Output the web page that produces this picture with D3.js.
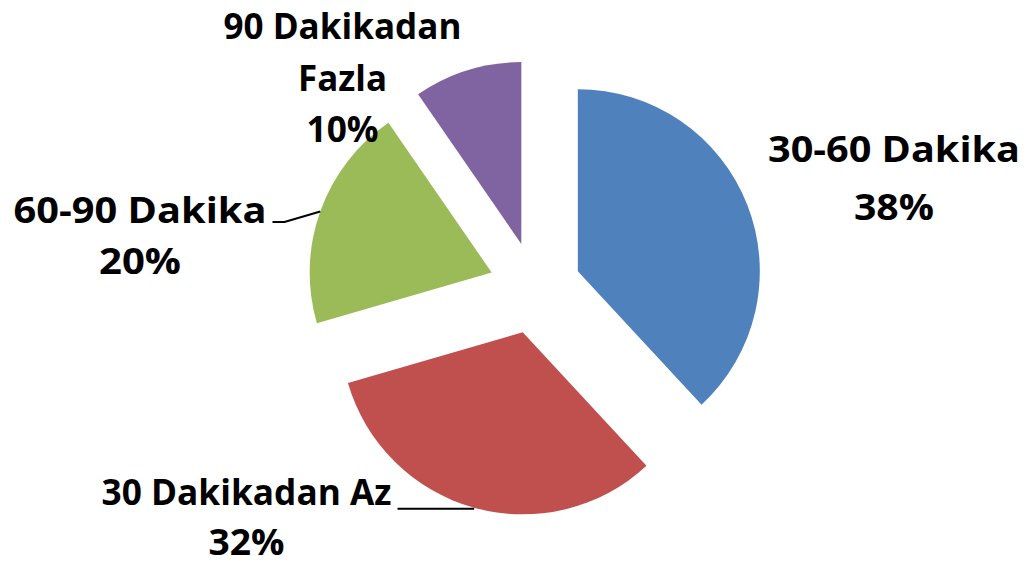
<!DOCTYPE html>
<html>
<head>
<meta charset="utf-8">
<script src="https://cdn.jsdelivr.net/npm/d3@7/dist/d3.min.js"></script>
<style>
  html, body { margin: 0; padding: 0; background: #ffffff; }
  svg { display: block; }
  text { font-family: "Open Sans", Lato, sans-serif; font-weight: 700; fill: #000; }
</style>
</head>
<body>
<svg id="chart" width="1027" height="565"></svg>
<script>
// ---- data ----
const categories = ["30-60 Dakika", "30 Dakikadan Az", "60-90 Dakika", "90 Dakikadan Fazla"];
const values = [38.1, 32.4, 19.9, 9.6];
const colors = ["#4F81BD", "#C0504D", "#9BBB59", "#8064A2"];

// ---- layout ----
const W = 1027, H = 565;
const cx = 535, cy = 288, R = 182, explode = 46;
const fontSize = 36;
// label layout: text lines, line widths (incl. percent line), center x, first baseline, line pitch, leader
const labelLayout = [
  { lines: ["30-60 Dakika"], widths: [252, 80], cxT: 894, y0: 162, pitch: 57.5, leader: null },
  { lines: ["30 Dakikadan Az"], widths: [290, 76], cxT: 246.5, y0: 505, pitch: 49.5, leader: "red" },
  { lines: ["60-90 Dakika"], widths: [253, 82], cxT: 140, y0: 223, pitch: 51, leader: "green" },
  { lines: ["90 Dakikadan", "Fazla"], widths: [238, 89, 72], cxT: 342.5, y0: 39, pitch: 51.5, leader: null }
];

const svg = d3.select("#chart");
const total = d3.sum(values);
const pie = d3.pie().sort(null).value(d => d).startAngle(0).endAngle(2 * Math.PI);
const arcs = pie(values);
const arc = d3.arc().innerRadius(0).outerRadius(R);

const g = svg.append("g").attr("transform", `translate(${cx},${cy})`);

function offsetOf(a) {
  const mid = (a.startAngle + a.endAngle) / 2;
  return [explode * Math.sin(mid), -explode * Math.cos(mid)];
}

g.selectAll("path.slice")
  .data(arcs)
  .join("path")
  .attr("class", "slice")
  .attr("d", arc)
  .attr("fill", (d, i) => colors[i])
  .attr("transform", d => {
    const [ox, oy] = offsetOf(d);
    return `translate(${ox},${oy})`;
  });

// labels
arcs.forEach((a, i) => {
  const L = labelLayout[i];
  const pct = Math.round(a.value / total * 100) + "%";
  const lines = L.lines.concat([pct]);
  lines.forEach((ln, k) => {
    svg.append("text")
      .attr("text-anchor", "middle")
      .attr("font-size", fontSize)
      .attr("x", L.cxT)
      .attr("y", L.y0 + k * L.pitch)
      .attr("textLength", L.widths[k])
      .attr("lengthAdjust", "spacingAndGlyphs")
      .text(ln);
  });

  if (L.leader) {
    const mid = (a.startAngle + a.endAngle) / 2;
    const [ox, oy] = offsetOf(a);
    const px = cx + ox + R * Math.sin(mid);
    const py = cy + oy - R * Math.cos(mid);
    const tx = L.cxT + L.widths[0] / 2 + 6;
    const ty = L.y0 - 1;
    let pts;
    if (L.leader === "green") {
      pts = [[px, py], [tx + 12, ty], [tx, ty]];
    } else {
      pts = [[px, py + 1], [tx, py + 1]];
    }
    svg.append("path")
      .attr("d", d3.line()(pts))
      .attr("fill", "none")
      .attr("stroke", "#000")
      .attr("stroke-width", 2);
  }
});
</script>
</body>
</html>
